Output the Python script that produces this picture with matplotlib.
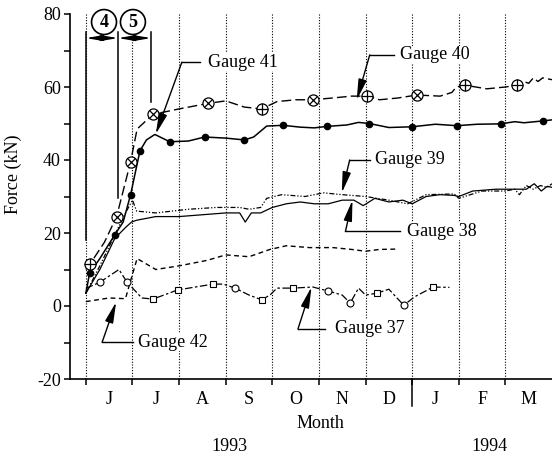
import numpy as np
import matplotlib
matplotlib.use("Agg")
import matplotlib.pyplot as plt
from matplotlib.transforms import blended_transform_factory

plt.rcParams['font.family'] = ['Liberation Serif', 'DejaVu Serif']
plt.rcParams['axes.unicode_minus'] = False

# months since 1 June 1993
months = ["J", "J", "A", "S", "O", "N", "D", "J", "F", "M"]

g41_t = [0, 0.08, 0.3, 0.62, 0.8, 0.96, 1.16, 1.3, 1.48, 1.8, 2.2, 2.55, 3.0, 3.4, 3.6, 3.88,
         4.23, 4.6, 4.9, 5.17, 5.6, 5.85, 6.08, 6.5, 7.0, 7.5, 7.96, 8.4, 8.9, 9.2, 9.4, 9.8, 10.0]
g41_v = [3.5, 9, 13, 19.5, 23, 30.5, 42.5, 45.5, 47, 45, 45.2, 46.3, 46, 45.5, 46.3, 49.3,
         49.5, 49, 48.8, 49.2, 49.6, 50.3, 50, 48.9, 49.1, 49.8, 49.4, 49.8, 49.9, 50.5, 50.2, 50.7, 51]
g41_marks = [1, 3, 5, 6, 9, 11, 13, 16, 19, 22, 24, 26, 28, 31]

g40_t = [0, 0.09, 0.4, 0.66, 0.96, 1.1, 1.44, 2.0, 2.62, 3.0, 3.4, 3.77, 4.1, 4.5, 4.87, 5.3,
         5.7, 6.03, 6.3, 6.7, 7.1, 7.6, 7.85, 7.95, 8.13, 8.6, 9.0, 9.25, 9.4, 9.5, 9.6, 9.7, 9.8, 10.0]
g40_v = [10, 11.5, 17.5, 24.5, 39.5, 48.5, 52.5, 54, 55.5, 56.2, 54.5, 54, 56, 56.5, 56.5, 57,
         57.5, 57.5, 56.5, 57, 57.8, 57.5, 58.5, 60, 60.5, 59.5, 60, 60.5, 61.5, 61, 62.5, 61.5, 62.5, 62]
g40_cross = [3, 4, 6, 8, 14, 20]
g40_plus = [1, 11, 17, 24, 27]

g39_t = [0, 0.3, 0.62, 0.85, 1.0, 1.09, 1.5, 2.2, 2.8, 3.3, 3.5, 3.75, 3.88, 4.2, 4.7, 5.1,
         5.5, 6.0, 6.5, 6.9, 7.3, 7.9, 8.0, 8.5, 9.0, 9.2, 9.3, 9.45, 9.6, 9.75, 9.9, 10]
g39_v = [3.5, 11, 19.5, 25.5, 29, 26, 25.5, 26.5, 27, 27, 26.5, 27, 29.5, 30.5, 30, 31,
         30.5, 30, 29, 28, 30.5, 30.7, 29.5, 31.5, 31.5, 32, 30.5, 33, 32, 33, 32.5, 33.5]

g38_t = [0, 0.3, 0.62, 0.85, 0.98, 1.09, 1.5, 2.0, 3.0, 3.3, 3.42, 3.55, 3.75, 4.0, 4.3, 4.6,
         4.9, 5.2, 5.5, 5.75, 5.95, 6.2, 6.5, 6.8, 7.0, 7.3, 7.6, 7.9, 8.0, 8.3, 8.8, 9.2,
         9.45, 9.62, 9.77, 9.9, 10]
g38_v = [3.5, 10, 18.5, 21.5, 23, 23.5, 24.5, 24.5, 25.5, 25.5, 23, 25.5, 25.5, 27, 28, 28.5,
         28, 28, 29, 29, 27.5, 29.5, 28.5, 29, 28, 30, 30.5, 30.3, 30, 31.5, 32, 32,
         32, 33.5, 31.5, 32.8, 32.5]

g42_t = [0, 0.5, 0.85, 0.95, 1.1, 1.5, 2.0, 2.6, 3.0, 3.5, 3.95, 4.3, 4.8, 5.3, 5.7, 6.0, 6.3, 6.7]
g42_v = [1.2, 2.2, 2.0, 6.5, 13, 10, 11, 12.5, 14, 13.5, 15.5, 16.5, 16, 16, 15.5, 15, 15.5, 15.6]

g37_t = [0, 0.3, 0.71, 0.88, 1.2, 1.44, 1.97, 2.73, 2.95, 3.2, 3.5, 3.77, 3.95, 4.1, 4.44,
         4.87, 5.2, 5.5, 5.67, 5.85, 6.0, 6.24, 6.5, 6.82, 7.05, 7.45, 7.8]
g37_v = [4.8, 6.5, 10, 6.6, 2.2, 1.9, 4.4, 6, 6, 4.9, 3, 1.7, 3, 4.9, 4.9, 5.2, 4.1, 3, 0.8,
         4.9, 3, 3.5, 4.6, 0.2, 2.5, 5.2, 5.1]
g37_circ = [1, 3, 9, 16, 18, 23]
g37_sq = [5, 6, 7, 11, 14, 21, 25]

fig = plt.figure(figsize=(5.52, 4.58), dpi=100)
ax = fig.add_axes([70/552, 1-379/458, 482/552, 365/458])

for m in range(10):
    ax.axvline(m, color='k', lw=0.8, ls=(0, (1, 1.5)), zorder=1)

ax.plot(g40_t, g40_v, color='k', lw=1.0, dashes=(7, 3), zorder=3)
t40 = np.array(g40_t); v40 = np.array(g40_v)
for idx, mk in [(g40_cross, 'x'), (g40_plus, '+')]:
    ax.plot(t40[idx], v40[idx], 'o', ms=8, mfc='white', mec='k', mew=0.9, zorder=4)
    ax.plot(t40[idx], v40[idx], mk, ms=6 if mk == 'x' else 8, mec='k', mew=0.9, zorder=5)

ax.plot(g41_t, g41_v, color='k', lw=1.1, marker='o', ms=4.5, mfc='k', mec='k',
        markevery=g41_marks, zorder=3)
ax.plot(g39_t, g39_v, color='k', lw=0.9, dashes=(4, 1.5, 1, 1.5, 1, 1.5), zorder=2)
ax.plot(g38_t, g38_v, color='k', lw=0.9, zorder=2)
ax.plot(g42_t, g42_v, color='k', lw=1.0, dashes=(3.5, 2.5), zorder=2)

ax.plot(g37_t, g37_v, color='k', lw=0.9, dashes=(6, 2, 2, 2), zorder=2)
t37 = np.array(g37_t); v37 = np.array(g37_v)
ax.plot(t37[g37_circ], v37[g37_circ], 'o', ms=5, mfc='white', mec='k', mew=0.8, zorder=4)
ax.plot(t37[g37_sq], v37[g37_sq], 's', ms=4.5, mfc='white', mec='k', mew=0.8, zorder=4)

# stage brackets
for xb, y0 in [(0, 18.1), (0.69, 29.6), (1.40, 55.9)]:
    ax.plot([xb, xb], [75, y0], color='k', lw=1.1, zorder=3)
for a, b in [(0, 0.69), (0.69, 1.40)]:
    ax.annotate('', xy=(b, 73.4), xytext=(a, 73.4),
                arrowprops=dict(arrowstyle='<|-|>,head_length=0.7,head_width=0.12',
                                color='k', lw=1.0, shrinkA=0, shrinkB=0, mutation_scale=14))
for xc, s in [(0.39, '4'), (1.01, '5')]:
    ax.text(xc, 77.8, s, ha='center', va='center', fontsize=13, fontweight='bold',
            bbox=dict(boxstyle='circle,pad=0.22', fc='white', ec='k', lw=1.2), zorder=6)

# gauge labels: (text, tip, elbow, line end, text x, y)
labels = [("Gauge 41", (1.50, 47.1), 2.06, 2.45, 2.62, 66.8),
          ("Gauge 40", (5.81, 56.4), 6.09, 6.62, 6.73, 68.8),
          ("Gauge 39", (5.49, 31.0), 5.66, 6.09, 6.20, 40.0),
          ("Gauge 38", (5.72, 29.0), 5.57, 6.73, 6.90, 20.5),
          ("Gauge 37", (4.84, 5.2), 4.55, 5.12, 5.34, -6.3),
          ("Gauge 42", (0.65, 1.1), 0.35, 1.01, 1.12, -9.9)]
for txt, tip, el, le, tx, ty in labels:
    ax.plot([el, le], [ty, ty], color='k', lw=1.0, zorder=5)
    ax.annotate('', xy=tip, xytext=(el, ty),
                arrowprops=dict(arrowstyle='-|>,head_length=0.9,head_width=0.18',
                                color='k', lw=1.0, shrinkA=0, shrinkB=0, mutation_scale=14),
                zorder=5)
    ax.text(tx, ty, txt, ha='left', va='center', fontsize=13, zorder=6,
            bbox=dict(fc='white', ec='none', pad=0.5))

ax.set_xlim(-0.34, 10.0)
ax.set_ylim(-20, 80)
ax.spines['top'].set_visible(False)
ax.spines['right'].set_visible(False)
for sp in ['left', 'bottom']:
    ax.spines[sp].set_linewidth(1.2)

ax.set_yticks(np.arange(-20, 81, 20))
ax.set_yticks(np.arange(-10, 80, 20), minor=True)
ax.set_xticks(np.arange(0, 10))
ax.set_xticks(np.arange(0.5, 10, 1), minor=True)
ax.set_xticklabels([])
ax.set_xticklabels(months, minor=True)
ax.tick_params(axis='y', which='both', direction='out', length=4.5, width=1.1, labelsize=13, pad=2)
ax.tick_params(axis='x', which='major', direction='out', length=4.5, width=1.1)
ax.tick_params(axis='x', which='minor', length=0, labelsize=13, pad=9)

ax.set_ylabel("Force (kN)", fontsize=13)
ax.yaxis.set_label_coords(-0.10, 0.56)

tr = blended_transform_factory(ax.transData, ax.transAxes)
ax.plot([7, 7], [0, -0.074], color='k', lw=1.1, transform=tr, clip_on=False)
ax.text(5.04, -0.123, "Month", transform=tr, ha='center', va='center', fontsize=13)
ax.text(3.09, -0.186, "1993", transform=tr, ha='center', va='center', fontsize=13)
ax.text(8.66, -0.186, "1994", transform=tr, ha='center', va='center', fontsize=13)

fig.savefig("out.png", dpi=100)
